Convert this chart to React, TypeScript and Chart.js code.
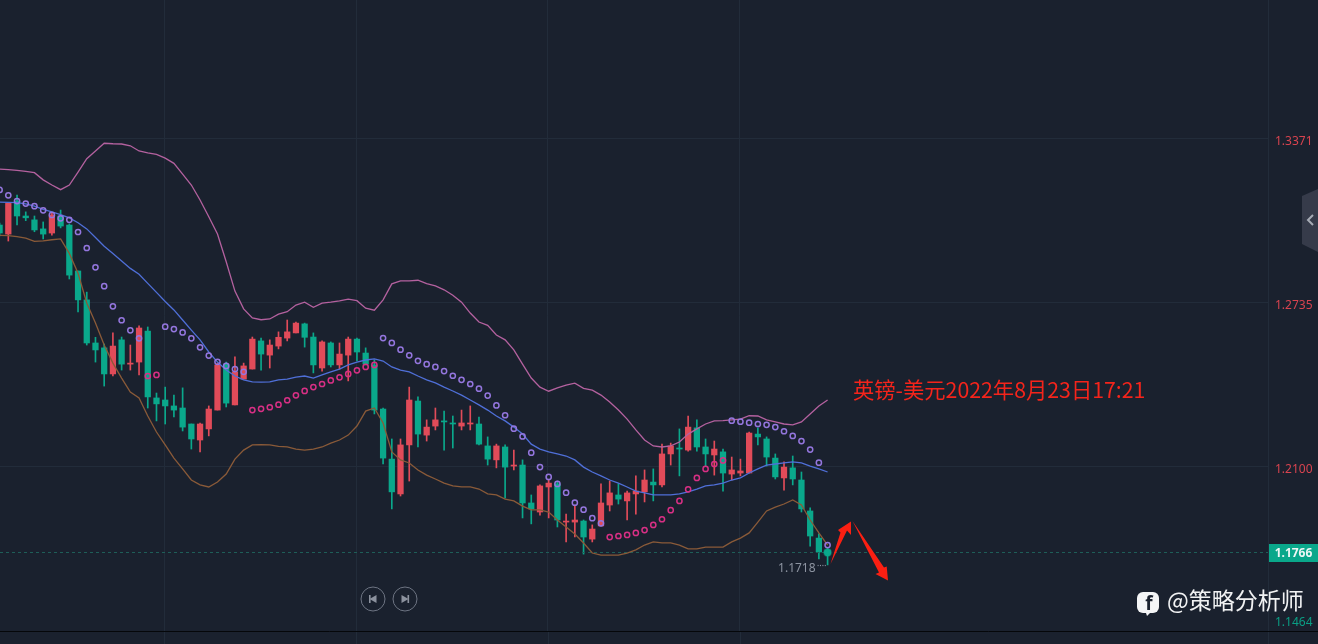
import React, { useEffect, useRef } from "react";
import { Chart, registerables } from "chart.js";

Chart.register(...registerables);

const opens = [1.3035,1.3000,1.3128,1.3070,1.3055,1.3020,1.3004,1.3070,1.3035,1.2857,1.2745,1.2578,1.2559,1.2458,1.2590,1.2496,1.2504,1.2624,1.2365,1.2357,1.2334,1.2326,1.2264,1.2202,1.2245,1.2318,1.2496,1.2338,1.2438,1.2477,1.2586,1.2531,1.2566,1.2597,1.2617,1.2652,1.2601,1.2481,1.2578,1.2493,1.2531,1.2593,1.2539,1.2493,1.2322,1.2128,1.1993,1.2183,1.2353,1.2221,1.2256,1.2276,1.2268,1.2256,1.2264,1.2264,1.2179,1.2125,1.2175,1.2101,1.2105,1.1958,1.1923,1.2020,1.2032,1.1884,1.1884,1.1888,1.1818,1.1869,1.1950,1.1989,1.1966,1.1993,1.2001,1.2039,1.2028,1.2148,1.2171,1.2163,1.2249,1.2175,1.2144,1.2156,1.2070,1.2074,1.2074,1.2225,1.2206,1.2132,1.2055,1.2094,1.2047,1.1927,1.1822,1.1776];
const highs = [1.3043,1.3120,1.3151,1.3086,1.3070,1.3047,1.3082,1.3093,1.3039,1.2857,1.2775,1.2600,1.2574,1.2617,1.2601,1.2570,1.2644,1.2640,1.2384,1.2407,1.2376,1.2404,1.2264,1.2268,1.2334,1.2500,1.2504,1.2524,1.2500,1.2601,1.2597,1.2590,1.2621,1.2667,1.2659,1.2655,1.2617,1.2586,1.2582,1.2578,1.2601,1.2597,1.2559,1.2512,1.2326,1.2206,1.2206,1.2407,1.2369,1.2280,1.2326,1.2314,1.2295,1.2318,1.2334,1.2291,1.2214,1.2186,1.2183,1.2163,1.2125,1.1989,1.2028,1.2047,1.2043,1.1915,1.1950,1.1892,1.1873,1.2032,1.2043,1.2032,1.2004,1.2063,1.2086,1.2090,1.2186,1.2190,1.2245,1.2295,1.2280,1.2206,1.2198,1.2167,1.2136,1.2128,1.2233,1.2249,1.2214,1.2148,1.2117,1.2140,1.2078,1.1939,1.1838,1.1784];
const lows = [1.2993,1.2973,1.3035,1.3052,1.3009,1.2981,1.2996,1.3024,1.2826,1.2698,1.2570,1.2504,1.2411,1.2450,1.2473,1.2473,1.2454,1.2326,1.2276,1.2264,1.2291,1.2237,1.2167,1.2156,1.2218,1.2318,1.2330,1.2338,1.2438,1.2477,1.2473,1.2481,1.2555,1.2586,1.2617,1.2562,1.2462,1.2469,1.2485,1.2477,1.2431,1.2508,1.2493,1.2303,1.2109,1.1935,1.1985,1.2043,1.2175,1.2198,1.2241,1.2163,1.2171,1.2241,1.2241,1.2183,1.2105,1.2094,1.1977,1.2086,1.1900,1.1877,1.1911,1.1900,1.1865,1.1807,1.1826,1.1760,1.1807,1.1869,1.1927,1.1954,1.1892,1.1915,1.1962,1.1966,1.2020,1.2105,1.2063,1.2159,1.2159,1.2101,1.2066,1.2004,1.2047,1.2063,1.2074,1.2183,1.2101,1.2051,1.2008,1.2028,1.1923,1.1791,1.1741,1.1718];
const closes = [1.3004,1.3119,1.3070,1.3063,1.3016,1.3000,1.3074,1.3031,1.2841,1.2745,1.2578,1.2551,1.2458,1.2566,1.2496,1.2500,1.2636,1.2369,1.2342,1.2334,1.2318,1.2252,1.2206,1.2264,1.2322,1.2493,1.2345,1.2466,1.2489,1.2593,1.2535,1.2570,1.2600,1.2621,1.2655,1.2600,1.2493,1.2582,1.2493,1.2535,1.2593,1.2543,1.2496,1.2318,1.2132,1.2001,1.2183,1.2357,1.2225,1.2252,1.2280,1.2272,1.2264,1.2268,1.2268,1.2186,1.2128,1.2179,1.2097,1.2105,1.1958,1.1935,1.2024,1.2035,1.1892,1.1888,1.1892,1.1826,1.1857,1.1958,1.1997,1.1973,1.1997,1.2004,1.2047,1.2028,1.2148,1.2179,1.2167,1.2252,1.2175,1.2148,1.2167,1.2074,1.2086,1.2082,1.2229,1.2214,1.2136,1.2059,1.2097,1.2051,1.1935,1.1830,1.1768,1.1766];

const upperBand = [1.3252,1.3250,1.3247,1.3243,1.3238,1.3210,1.3190,1.3172,1.3190,1.3240,1.3292,1.3322,1.3352,1.3350,1.3349,1.3342,1.3322,1.3315,1.3309,1.3294,1.3274,1.3232,1.3190,1.3132,1.3067,1.3000,1.2893,1.2779,1.2710,1.2675,1.2668,1.2671,1.2690,1.2699,1.2725,1.2736,1.2716,1.2732,1.2736,1.2741,1.2748,1.2742,1.2713,1.2705,1.2745,1.2807,1.2819,1.2819,1.2821,1.2808,1.2799,1.2784,1.2763,1.2736,1.2694,1.2659,1.2646,1.2609,1.2590,1.2551,1.2496,1.2442,1.2407,1.2391,1.2404,1.2415,1.2422,1.2402,1.2395,1.2376,1.2349,1.2318,1.2283,1.2241,1.2202,1.2179,1.2175,1.2179,1.2194,1.2225,1.2245,1.2264,1.2276,1.2277,1.2280,1.2283,1.2296,1.2295,1.2280,1.2272,1.2264,1.2261,1.2272,1.2303,1.2334,1.2357];
const middleBand = [1.3124,1.3123,1.3122,1.3117,1.3108,1.3096,1.3086,1.3075,1.3063,1.3044,1.3020,1.2987,1.2953,1.2925,1.2896,1.2867,1.2844,1.2809,1.2774,1.2739,1.2706,1.2667,1.2628,1.2590,1.2543,1.2504,1.2473,1.2450,1.2435,1.2427,1.2426,1.2427,1.2435,1.2438,1.2446,1.2450,1.2442,1.2454,1.2466,1.2477,1.2493,1.2504,1.2512,1.2516,1.2508,1.2485,1.2473,1.2466,1.2450,1.2435,1.2423,1.2407,1.2392,1.2376,1.2357,1.2338,1.2318,1.2295,1.2276,1.2252,1.2225,1.2186,1.2167,1.2156,1.2148,1.2140,1.2125,1.2097,1.2078,1.2063,1.2047,1.2035,1.2020,1.2004,1.1997,1.1989,1.1989,1.1989,1.1993,1.2001,1.2012,1.2024,1.2028,1.2035,1.2047,1.2055,1.2074,1.2090,1.2105,1.2109,1.2113,1.2117,1.2113,1.2101,1.2090,1.2078];
const lowerBand = [1.2995,1.2994,1.2990,1.2984,1.2972,1.2974,1.2978,1.2981,1.2925,1.2848,1.2733,1.2655,1.2570,1.2500,1.2442,1.2388,1.2365,1.2295,1.2233,1.2183,1.2132,1.2090,1.2047,1.2028,1.2020,1.2039,1.2070,1.2128,1.2163,1.2183,1.2184,1.2183,1.2177,1.2175,1.2167,1.2163,1.2167,1.2175,1.2190,1.2202,1.2221,1.2256,1.2314,1.2326,1.2268,1.2156,1.2125,1.2113,1.2086,1.2066,1.2051,1.2035,1.2024,1.2020,1.2020,1.2012,1.1993,1.1989,1.1973,1.1966,1.1946,1.1931,1.1931,1.1923,1.1892,1.1865,1.1838,1.1803,1.1764,1.1756,1.1756,1.1756,1.1764,1.1776,1.1795,1.1807,1.1803,1.1803,1.1795,1.1780,1.1780,1.1787,1.1787,1.1787,1.1807,1.1822,1.1842,1.1884,1.1927,1.1942,1.1954,1.1970,1.1950,1.1892,1.1842,1.1795];

const n = null;
const sarAbove = [1.3171,1.3150,1.3128,1.3118,1.3108,1.3092,1.3074,1.3061,1.3055,1.3008,1.2946,1.2871,1.2798,1.2720,1.2666,1.2627,1.2596,n,n,1.2641,1.2632,1.2619,1.2596,1.2561,1.2529,1.2505,1.2489,1.2477,1.2466,n,n,n,n,n,n,n,n,n,n,n,n,n,n,n,1.2597,1.2578,1.2552,1.2530,1.2509,1.2496,1.2485,1.2469,1.2451,1.2435,1.2419,1.2401,1.2374,1.2336,1.2298,1.2246,1.2216,1.2153,1.2097,1.2059,1.2032,1.1998,1.1959,1.1932,1.1899,1.1879,n,n,n,n,n,n,n,n,n,n,n,n,n,n,1.2277,1.2273,1.2269,1.2264,1.2261,1.2252,1.2236,1.2218,1.2198,1.2165,1.2114,1.1795];
const sarBelow = [n,n,n,n,n,n,n,n,n,n,n,n,n,n,n,n,n,1.2450,1.2454,n,n,n,n,n,n,n,n,n,n,1.2318,1.2323,1.2329,1.2339,1.2356,1.2375,1.2392,1.2407,1.2419,1.2433,1.2445,1.2458,1.2472,1.2485,1.2493,n,n,n,n,n,n,n,n,n,n,n,n,n,n,n,n,n,n,n,n,n,n,n,n,n,n,1.1826,1.1830,1.1834,1.1842,1.1853,1.1873,1.1895,1.1930,1.1966,1.2011,1.2055,1.2090,1.2109,1.2123,n,n,n,n,n,n,n,n,n,n,n,n];

const lastPrice = 1.1766;
const lowPrice = 1.1718;
const yTickValues = [1.3371, 1.2735, 1.21, 1.1508];
const yTickLabels = ["1.3371", "1.2735", "1.2100", "1.1464"];
const xGridIndices = [18.9, 40.9, 62.9, 84.9];
const titleText = "英镑-美元2022年8月23日17:21";
const watermarkText = "@策略分析师";

const BG = "#1a212e";
const GRID = "#222c3a";
const RED = "#e14b59";
const GREEN = "#0aa88b";
const AXIS_GREEN = "#0a9e84";
const CJK = '"Noto Sans CJK SC", sans-serif';
const LATIN = '"Noto Sans", sans-serif';

const poly = (ctx: CanvasRenderingContext2D, pts: number[][], fill: string) => {
  ctx.beginPath();
  pts.forEach((p, i) => (i ? ctx.lineTo(p[0], p[1]) : ctx.moveTo(p[0], p[1])));
  ctx.closePath();
  ctx.fillStyle = fill;
  ctx.fill();
};

const overlayPlugin = {
  id: "overlay",
  afterDraw(chart: any) {
    const { ctx, scales } = chart;
    const yS = scales.y;
    const xS = scales.x;
    ctx.save();

    ctx.strokeStyle = GRID;
    ctx.lineWidth = 1;
    [...xGridIndices.map((v) => xS.getPixelForValue(v)), 1268].forEach((px: number) => {
      ctx.beginPath();
      ctx.moveTo(Math.round(px) + 0.5, 631);
      ctx.lineTo(Math.round(px) + 0.5, 644);
      ctx.stroke();
    });
    ctx.strokeStyle = "#05070a";
    ctx.beginPath();
    ctx.moveTo(0, 631.5);
    ctx.lineTo(1318, 631.5);
    ctx.stroke();

    const py = yS.getPixelForValue(lastPrice);
    ctx.fillStyle = GREEN;
    ctx.fillRect(1269, Math.round(py) - 9, 49, 18);
    ctx.fillStyle = "#eef7f5";
    ctx.font = `bold 12px ${LATIN}`;
    ctx.textAlign = "center";
    ctx.textBaseline = "middle";
    ctx.fillText(lastPrice.toFixed(4), 1293.5, Math.round(py) + 1);

    const ly = yS.getPixelForValue(lowPrice);
    const lx = xS.getPixelForValue(95);
    ctx.fillStyle = "#8d94a1";
    ctx.font = `12px ${LATIN}`;
    ctx.textAlign = "right";
    ctx.fillText(lowPrice.toFixed(4), lx - 12, ly + 4);
    for (let i = 0; i < 4; i++) ctx.fillRect(lx - 10 + i * 2.4, ly, 1, 1.2);

    ctx.fillStyle = "#f5241b";
    ctx.font = `21.3px ${CJK}`;
    ctx.textAlign = "left";
    ctx.textBaseline = "alphabetic";
    ctx.fillText(titleText, 853, 398);

    poly(ctx, [[830.5, 564], [840.5, 532.5], [838, 530], [851, 521.5], [851, 535], [847, 530.5]], "#fb1f12");
    poly(ctx, [[852.5, 521], [884, 567.5], [886.7, 566.5], [888, 580.5], [875.5, 574], [879, 572.5]], "#fb1f12");

    const btn = (cx: number, dir: number) => {
      ctx.beginPath();
      ctx.arc(cx, 599, 12, 0, Math.PI * 2);
      ctx.strokeStyle = "#6d7482";
      ctx.lineWidth = 1;
      ctx.stroke();
      ctx.fillStyle = "#8c929e";
      ctx.fillRect(dir < 0 ? cx - 4 : cx + 2.5, 595, 1.6, 8);
      poly(ctx, [[cx + dir * 3.5, 599], [cx - dir * 3.5, 595], [cx - dir * 3.5, 603]], "#8c929e");
    };
    btn(373, -1);
    btn(405, 1);

    poly(ctx, [[1318, 189], [1302, 196], [1302, 244], [1318, 252]], "#363b4a");
    ctx.strokeStyle = "#a6abb5";
    ctx.lineWidth = 2;
    ctx.beginPath();
    ctx.moveTo(1313, 215);
    ctx.lineTo(1308, 220);
    ctx.lineTo(1313, 225);
    ctx.stroke();

    ctx.fillStyle = "#f4f5f6";
    ctx.beginPath();
    ctx.roundRect(1137, 592, 22, 21, 6);
    ctx.fill();
    poly(ctx, [[1145, 610], [1153, 610], [1147, 616]], "#f4f5f6");
    ctx.fillStyle = "#1a212e";
    ctx.font = `bold 19px ${LATIN}`;
    ctx.textAlign = "center";
    ctx.fillText("f", 1149, 610);
    ctx.fillStyle = "#f1f2f3";
    ctx.font = `23px ${CJK}`;
    ctx.textAlign = "left";
    ctx.fillText(watermarkText, 1167, 609);
    ctx.restore();
  },
};

export default function App() {
  const ref = useRef<HTMLCanvasElement>(null);
  useEffect(() => {
    document.body.style.margin = "0";
    document.body.style.background = BG;
    const idx = closes.map((_, i) => i);
    const candleColor = closes.map((c, i) => (c >= opens[i] ? RED : GREEN));
    const linePts = (arr: number[]) => arr.map((y, x) => ({ x, y }));
    const sarPts = (arr: (number | null)[]) =>
      arr.map((y, x) => ({ x, y })).filter((p) => p.y !== null);
    const xMin = 0.046;
    const xMax = 145.53;
    const band = (data: number[], color: string, order: number) => ({
      type: "line" as const,
      data: linePts(data),
      borderColor: color,
      borderWidth: 1.3,
      pointRadius: 0,
      tension: 0,
      order,
    });
    const sar = (data: (number | null)[], color: string) => ({
      type: "scatter" as const,
      data: sarPts(data),
      borderColor: color,
      backgroundColor: "transparent",
      borderWidth: 1.5,
      pointRadius: 2.6,
      showLine: false,
      order: 0,
    });
    const chart = new Chart(ref.current!, {
      type: "bar",
      data: {
        datasets: [
          {
            type: "line",
            data: [{ x: 95, y: lastPrice }],
            pointRadius: 3.6,
            pointBackgroundColor: GREEN,
            pointBorderColor: "rgba(10,168,139,0.35)",
            pointBorderWidth: 2,
            order: 0,
          },
          sar(sarAbove, "#9476de"),
          sar(sarBelow, "#d92f85"),
          band(upperBand, "#b4619f", 1),
          band(middleBand, "#4f6fd8", 1),
          band(lowerBand, "#8a5a38", 1),
          {
            type: "line",
            data: [{ x: xMin, y: lastPrice }, { x: xMax, y: lastPrice }],
            borderColor: "#1f5f59",
            borderWidth: 1,
            borderDash: [3, 3],
            pointRadius: 0,
            order: 2,
          },
          {
            type: "bar",
            data: idx.map((i) => ({ x: i, y: [opens[i], closes[i]] })),
            backgroundColor: candleColor,
            barThickness: 5.6,
            grouped: false,
            order: 3,
          },
          {
            type: "bar",
            data: idx.map((i) => ({ x: i, y: [lows[i], highs[i]] })),
            backgroundColor: candleColor,
            barThickness: 1,
            grouped: false,
            order: 4,
          },
        ] as any,
      },
      options: {
        animation: false,
        responsive: false,
        devicePixelRatio: 1,
        layout: { autoPadding: false, padding: { bottom: 13 } },
        plugins: { legend: { display: false }, tooltip: { enabled: false } },
        scales: {
          x: {
            type: "linear",
            min: xMin,
            max: xMax,
            offset: false,
            afterBuildTicks: (s: any) => {
              s.ticks = xGridIndices.map((value) => ({ value }));
            },
            afterFit: (s: any) => {
              s.height = 0;
              s.paddingLeft = 0;
              s.paddingRight = 0;
            },
            ticks: { display: false },
            border: { display: false },
            grid: { color: GRID, offset: false, drawTicks: false, lineWidth: 1 },
          },
          y: {
            type: "linear",
            position: "right",
            min: 1.14619,
            max: 1.3907,
            beginAtZero: false,
            afterBuildTicks: (s: any) => {
              s.ticks = yTickValues.map((value) => ({ value }));
            },
            afterFit: (s: any) => {
              s.width = 50;
              s.paddingTop = 0;
              s.paddingBottom = 0;
            },
            border: { display: true, color: GRID },
            grid: {
              drawTicks: false,
              color: (c: any) => (c.index === 3 ? "transparent" : GRID),
            },
            ticks: {
              autoSkip: false,
              padding: 7,
              labelOffset: 3,
              font: { family: "Noto Sans", size: 12 },
              color: (c: any) => (c.index === 3 ? AXIS_GREEN : "#d8434f"),
              callback: (_: any, i: number) => yTickLabels[i],
            },
          },
        },
      },
      plugins: [overlayPlugin],
    } as any);
    return () => chart.destroy();
  }, []);
  return (
    <canvas
      ref={ref}
      width={1318}
      height={644}
      style={{ display: "block", width: 1318, height: 644, background: BG }}
    />
  );
}
